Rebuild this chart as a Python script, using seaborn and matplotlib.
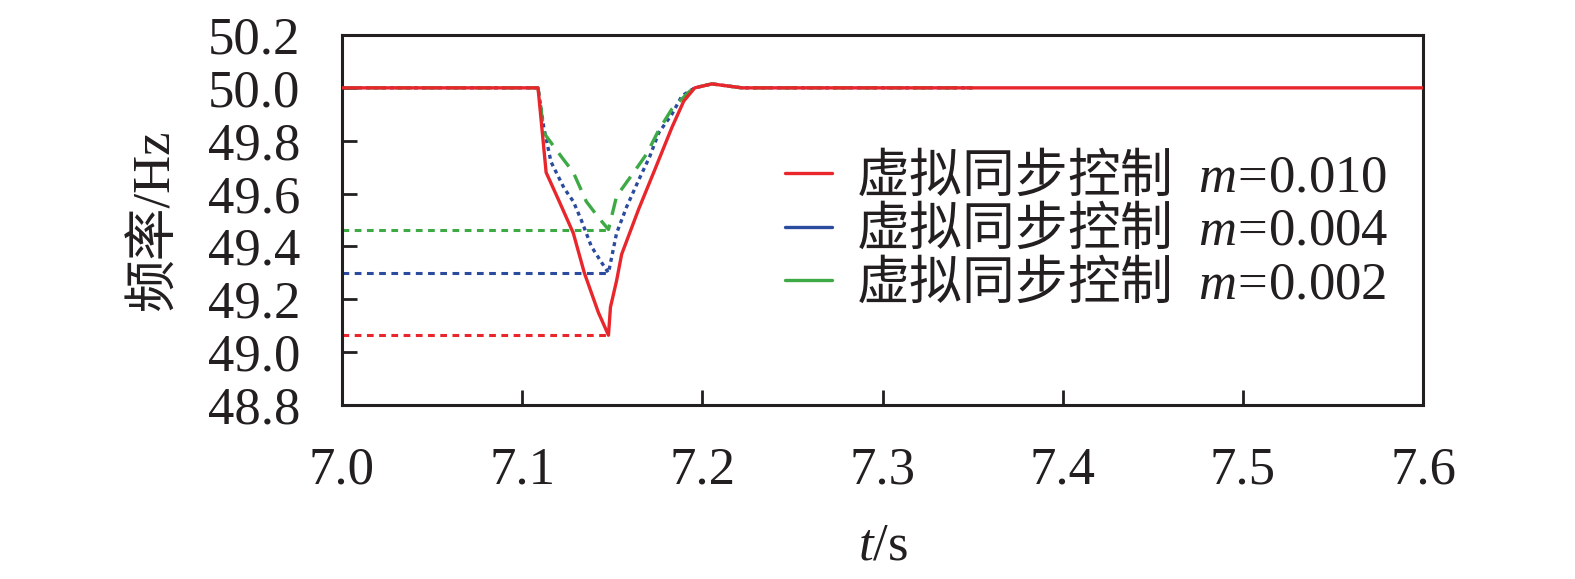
import numpy as np
import pandas as pd
import seaborn as sns
import matplotlib.pyplot as plt
from matplotlib.lines import Line2D

# data
series = ['m=0.010', 'm=0.004', 'm=0.002']
labels = [r'$\mathrm{虚拟同步控制}\ \ m\!\mathsf{=}\!\mathsf{0.010}$',
          r'$\mathrm{虚拟同步控制}\ \ m\!\mathsf{=}\!\mathsf{0.004}$',
          r'$\mathrm{虚拟同步控制}\ \ m\!\mathsf{=}\!\mathsf{0.002}$']
colors = ['#e8262b', '#2a4b9e', '#3daa46']

t_red = [7.0, 7.1088, 7.1105, 7.1133, 7.1206, 7.1284, 7.1345, 7.1423, 7.1479,
         7.149, 7.1524, 7.1552, 7.1646, 7.1736, 7.1831, 7.1897, 7.1958, 7.2053,
         7.222, 7.6]
f_red = [50.0, 50.0, 49.88, 49.68, 49.57, 49.45, 49.30, 49.15, 49.064,
         49.17, 49.27, 49.37, 49.54, 49.69, 49.85, 49.95, 50.0, 50.015,
         50.0, 50.0]

t_blue = [7.0, 7.1088, 7.1120, 7.1160, 7.1233, 7.1284, 7.1328, 7.1384, 7.1440,
          7.1479, 7.1524, 7.1580, 7.1646, 7.1708, 7.1758, 7.1831, 7.1887, 7.1958,
          7.2053, 7.222, 7.35]
f_blue = [50.0, 50.0, 49.85, 49.72, 49.62, 49.57, 49.50, 49.40, 49.34,
          49.30, 49.45, 49.55, 49.65, 49.74, 49.83, 49.90, 49.97, 50.0,
          50.015, 50.0, 50.0]

t_green = [7.0, 7.1088, 7.1105, 7.1120, 7.1217, 7.1284, 7.1356, 7.1423, 7.1479,
           7.1524, 7.1619, 7.1691, 7.1758, 7.1831, 7.1926, 7.1958, 7.2053,
           7.222, 7.35]
f_green = [50.0, 50.0, 49.92, 49.83, 49.74, 49.68, 49.57, 49.51, 49.464,
           49.59, 49.68, 49.75, 49.84, 49.92, 49.985, 50.0, 50.015,
           50.0, 50.0]

# minimum marker lines
min_t = [7.1479, 7.1479, 7.1479]
min_f = [49.064, 49.30, 49.464]

xticks = [7.0, 7.1, 7.2, 7.3, 7.4, 7.5, 7.6]
yticks = [48.8, 49.0, 49.2, 49.4, 49.6, 49.8, 50.0, 50.2]

df = pd.concat([
    pd.DataFrame({'t': t_red, 'f': f_red, 'case': series[0]}),
    pd.DataFrame({'t': t_blue, 'f': f_blue, 'case': series[1]}),
    pd.DataFrame({'t': t_green, 'f': f_green, 'case': series[2]}),
], ignore_index=True)

sns.set_theme(style='ticks')
plt.rcParams['font.family'] = ['Liberation Serif', 'Noto Sans CJK SC']
# mathtext: \mathrm -> CJK font, \mathsf -> serif numbers, italic serif vars
plt.rcParams['mathtext.fontset'] = 'custom'
plt.rcParams['mathtext.rm'] = 'Noto Sans CJK SC'
plt.rcParams['mathtext.sf'] = 'Liberation Serif'
plt.rcParams['mathtext.it'] = 'Liberation Serif:italic'

fs = 38
ink = '#231f20'
fig = plt.figure(figsize=(15.75, 5.79), dpi=100)
ax = fig.add_axes([342 / 1575, 1 - 405 / 579, (1423 - 342) / 1575, (405 - 35) / 579])

# horizontal markers at the minimum of each curve
for mt, mf, c in zip(min_t, min_f, colors):
    ax.hlines(mf, xticks[0], mt, colors=c, lw=2.2, linestyles=(0, (2.2, 1.8)), zorder=1)

sns.lineplot(data=df, x='t', y='f', hue='case', style='case',
             palette=dict(zip(series, colors)),
             dashes={series[0]: '', series[1]: (1.2, 1.2), series[2]: (5, 3)},
             estimator=None, sort=False, lw=2.4, legend=False, ax=ax)

# red on top
ax.lines[-3].set_zorder(4)

ax.set_xlim(xticks[0], xticks[-1])
ax.set_ylim(yticks[0], yticks[-1])
ax.set_xticks(xticks)
ax.set_yticks(yticks)
ax.set_xticklabels([f'{v:.1f}' for v in xticks])
ax.set_yticklabels([f'{v:.1f}' for v in yticks])
ax.tick_params(direction='in', length=11, width=2, labelsize=fs, colors=ink)
ax.tick_params(axis='x', pad=30)
ax.tick_params(axis='y', pad=30)
for s in ax.spines.values():
    s.set_linewidth(2.2)
    s.set_color(ink)

ax.set_xlabel(r'$t\mathsf{/s}$', fontsize=fs, color=ink, labelpad=20)
ax.set_ylabel('频率/Hz', fontsize=fs, color=ink, labelpad=20)

handles = [Line2D([], [], color=c, lw=2.4) for c in colors]
ax.legend(handles, labels, loc='upper left', bbox_to_anchor=(0.39, 0.745),
          frameon=False, fontsize=fs, handlelength=0.9, handletextpad=0.45,
          labelspacing=0.02, borderaxespad=0, labelcolor=ink)

fig.savefig('out.png', dpi=100)
